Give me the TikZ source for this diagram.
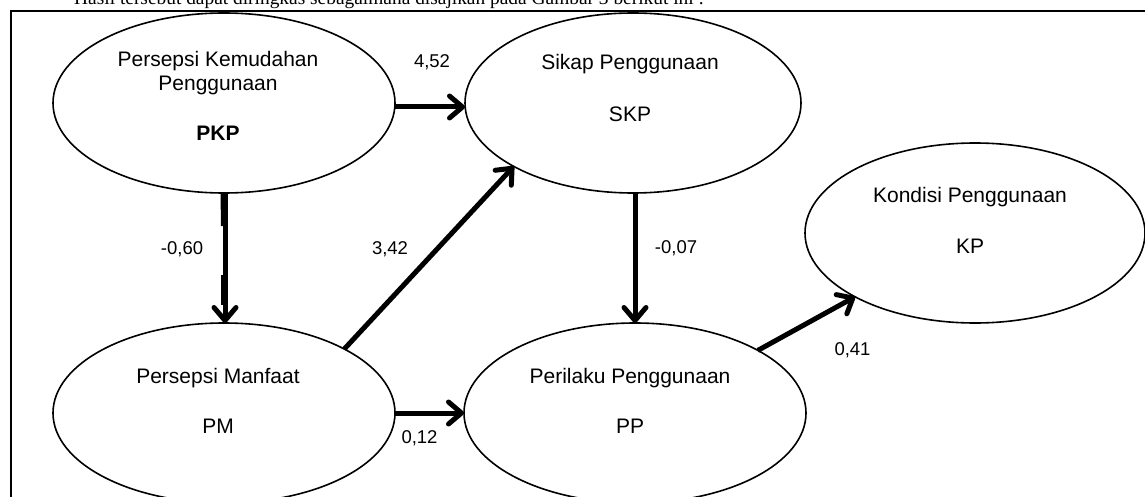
\documentclass[tikz,border=0pt]{standalone}
\usepackage{fontspec}
\setmainfont{Liberation Sans}
\newfontfamily\serifcap{Liberation Serif}
\usetikzlibrary{shapes.geometric,arrows.meta}
\begin{document}
\begin{tikzpicture}[x=1pt,y=-1pt,
  latent/.style={ellipse,draw,line width=1.6pt,inner sep=0pt,outer sep=0pt},
  txt/.style={anchor=base,inner sep=0pt,font=\fontsize{21}{25}\selectfont},
  coef/.style={anchor=base,inner sep=0pt,font=\fontsize{18.5}{22}\selectfont},
  path/.style={line width=5pt,-{Straight Barb[length=13pt,width=22pt,round,line width=5pt]}},
  seg/.style={line width=7pt}]
\useasboundingbox (0,0) rectangle (1145,497);
\clip (0,0) rectangle (1145,497);
% caption line (cut off at top, as in the reference)
\node[anchor=base west,inner sep=0pt] (cap) at (74,5) {\serifcap\fontsize{19.4}{22}\selectfont Hasil tersebut dapat diringkas sebagaimana disajikan pada Gambar 3 berikut ini :};
% frame
\coordinate (fbl) at (11,520);
\coordinate (ftl) at (11,11);
\coordinate (ftr) at (1160,11);
\draw[line width=2pt] (fbl) -- (ftl) -- (ftr);
% latent variables
\node[latent,minimum width=342pt,minimum height=180pt] (pkp) at (224,103) {};
\node[latent,minimum width=336pt,minimum height=180pt] (skp) at (633,103) {};
\node[latent,minimum width=340pt,minimum height=180pt] (kp) at (975,233) {};
\node[latent,minimum width=342pt,minimum height=180pt] (pm) at (224,413) {};
\node[latent,minimum width=342pt,minimum height=180pt] (pp) at (635,413) {};
% texts
\node[txt] (pkp1) at (218,67) {Persepsi Kemudahan};
\node[txt] (pkp2) at (218,91) {Penggunaan};
\node[txt,font=\fontsize{21}{25}\selectfont\bfseries] (pkp3) at (218,141) {PKP};
\node[txt] (skp1) at (630,70) {Sikap Penggunaan};
\node[txt] (skp2) at (630,122) {SKP};
\node[txt] (kp1) at (970,202) {Kondisi Penggunaan};
\node[txt] (kp2) at (970,253) {KP};
\node[txt] (pm1) at (218,383) {Persepsi Manfaat};
\node[txt] (pm2) at (218,433) {PM};
\node[txt] (pp1) at (630,383) {Perilaku Penggunaan};
\node[txt] (pp2) at (630,433) {PP};
% paths
\draw[path] ([yshift=-4pt]pkp.east) -- ([yshift=-4pt]skp.west);
\coordinate (pa) at (224.5,226);
\coordinate (pb) at (224.5,275);
\coordinate (pc) at (224.5,305);
\draw[seg] (pkp.south) -- (pa);
\draw[seg] (pb) -- (pc);
\draw[path] ([xshift=1pt]pkp.south) -- ([xshift=1pt]pm.north);
\draw[path] (pm.28) -- (skp.208);
\draw[path] (pm.east) -- (pp.west);
\draw[path] ([xshift=2pt]skp.south) -- (pp.north);
\draw[path] (pp.27) -- (kp.208);
% coefficients
\node[coef] (c1) at (432,68) {4,52};
\node[coef] (c2) at (182,254) {-0,60};
\node[coef] (c3) at (390,254) {3,42};
\node[coef] (c4) at (676,253) {-0,07};
\node[coef] (c5) at (419.5,443) {0,12};
\node[coef] (c6) at (852.5,355) {0,41};
\end{tikzpicture}
\end{document}
